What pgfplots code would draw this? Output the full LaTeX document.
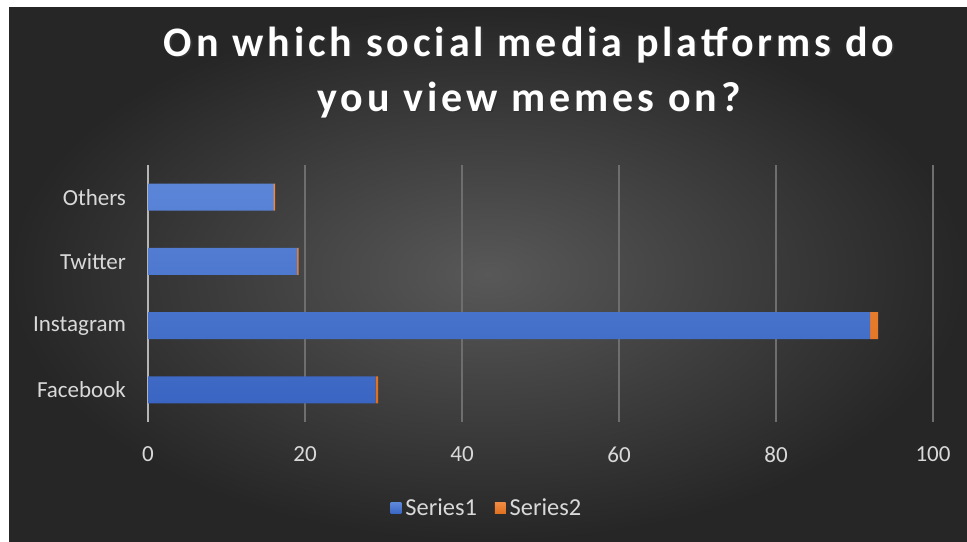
\documentclass[border=0pt]{standalone}
\usepackage{fontspec}
\setmainfont{Carlito}
\usepackage{pgfplots}
\pgfplotsset{compat=1.18}
\definecolor{bgin}{HTML}{585858}
\definecolor{bgout}{HTML}{262626}
\definecolor{gridc}{HTML}{6E6E6E}
\definecolor{axisc}{HTML}{B5B5B5}
\definecolor{txtc}{HTML}{D9D9D9}
\definecolor{blueA}{HTML}{5B86D8}
\definecolor{blueB}{HTML}{3A65C2}
\definecolor{orangeA}{HTML}{F08A40}
\definecolor{orangeB}{HTML}{E0701E}
\definecolor{s1}{HTML}{4472C4}
\definecolor{s2}{HTML}{ED7D31}
\begin{document}
\begin{tikzpicture}
\fill[white] (0pt,0pt) rectangle (483.5pt,270.5pt);
\shade[inner color=bgin, outer color=bgout] (4.5pt,0pt) rectangle (483.5pt,266.5pt);
\node[text=black!80, font=\bfseries\fontsize{21}{27.5}\selectfont\addfontfeature{LetterSpace=9.5}, align=center] at (265.3pt,233.5pt) {On which social media platforms do\\you view memes on?};
\node[text=white, font=\bfseries\fontsize{21}{27.5}\selectfont\addfontfeature{LetterSpace=9.5}, align=center] at (264.5pt,234.25pt) {On which social media platforms do\\you view memes on?};
\begin{axis}[
  at={(74pt,59.5pt)}, anchor=south west,
  scale only axis, width=392.5pt, height=128.5pt,
  xbar stacked, bar width=13.5pt,
  xmin=0, xmax=100, ymin=-0.5, ymax=3.5,
  xtick={0,20,40,60,80,100},
  ytick={0,1,2,3},
  yticklabels={Facebook,Instagram,Twitter,Others},
  axis lines*=left,
  x axis line style={draw=none},
  y axis line style={draw=axisc, line width=1pt},
  xmajorgrids, grid style={draw=gridc, line width=0.7pt},
  major tick length=0pt,
  tick label style={text=txtc, font=\fontsize{11.5}{13}\selectfont},
  /pgf/number format/assume math mode=true,
  xticklabel style={yshift=-9pt},
  yticklabel style={xshift=-7.5pt},
  legend style={at={(0.433,-0.336)}, anchor=center, draw=none, fill=none,
    text=txtc, font=\fontsize{12.2}{13}\selectfont, legend columns=2,
    /tikz/every even column/.append style={column sep=7pt}},
]
\addplot[draw=none, top color=blueA, bottom color=blueB,
  legend image code/.code={\fill[s1] (0pt,-2.7pt) rectangle (5.4pt,2.7pt);}] coordinates {(29,0) (92,1) (19,2) (16,3)};
\addlegendentry{Series1}
\addplot[draw=none, top color=orangeA, bottom color=orangeB,
  legend image code/.code={\fill[s2] (0pt,-2.7pt) rectangle (5.4pt,2.7pt);}] coordinates {(0.3,0) (1,1) (0.2,2) (0.2,3)};
\addlegendentry{Series2}
\end{axis}
\end{tikzpicture}
\end{document}
